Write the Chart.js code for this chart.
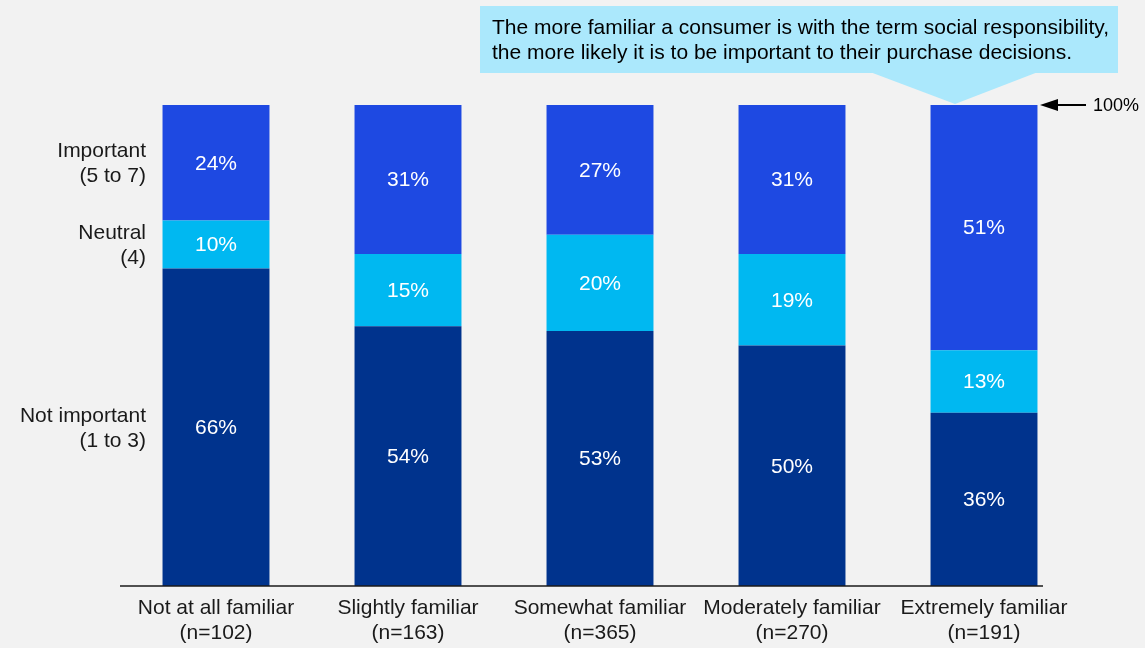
<!DOCTYPE html>
<html lang="en">
<head>
    <meta charset="UTF-8">
    <title>Importance by familiarity</title>
    <script src="https://cdn.jsdelivr.net/npm/chart.js"></script>
    <style>
        html, body { margin: 0; padding: 0; background: #f2f2f2; }
        .wrap { position: relative; width: 1145px; height: 648px; }
    </style>
</head>
<body>
    <div class="wrap">
        <canvas id="chart" width="1145" height="648"></canvas>
    </div>

    <script>
        const categories = [
            ['Not at all familiar', '(n=102)'],
            ['Slightly familiar', '(n=163)'],
            ['Somewhat familiar', '(n=365)'],
            ['Moderately familiar', '(n=270)'],
            ['Extremely familiar', '(n=191)']
        ];
        const notImportant = [66, 54, 53, 50, 36];
        const neutral = [10, 15, 20, 19, 13];
        const important = [24, 31, 27, 31, 51];
        const seriesNames = [
            ['Not important', '(1 to 3)'],
            ['Neutral', '(4)'],
            ['Important', '(5 to 7)']
        ];
        const calloutText = [
            'The more familiar a consumer is with the term social responsibility,',
            'the more likely it is to be important to their purchase decisions.'
        ];

        const FONT = '"Liberation Sans", Arial, sans-serif';

        // labels inside each segment + series names on the left
        const segmentLabels = {
            id: 'segmentLabels',
            afterDatasetsDraw(chart) {
                const ctx = chart.ctx;
                ctx.save();
                ctx.font = '21px ' + FONT;
                ctx.textBaseline = 'middle';
                chart.data.datasets.forEach((ds, i) => {
                    const meta = chart.getDatasetMeta(i);
                    meta.data.forEach((bar, j) => {
                        const p = bar.getProps(['x', 'y', 'base'], true);
                        ctx.fillStyle = '#ffffff';
                        ctx.textAlign = 'center';
                        ctx.fillText(ds.data[j] + '%', p.x, (p.y + p.base) / 2 + 1);
                    });
                    // series name next to the first bar
                    const first = meta.data[0].getProps(['y', 'base'], true);
                    const cy = (first.y + first.base) / 2 + 1;
                    ctx.fillStyle = '#1a1a1a';
                    ctx.textAlign = 'right';
                    ctx.fillText(seriesNames[i][0], 146, cy - 12.5);
                    ctx.fillText(seriesNames[i][1], 146, cy + 12.5);
                });
                ctx.restore();
            }
        };

        // axis line, callout box, 100% arrow
        const decorations = {
            id: 'decorations',
            afterDraw(chart) {
                const ctx = chart.ctx;
                const y = chart.scales.y;
                const top = y.getPixelForValue(100);
                const base = y.getPixelForValue(0);
                ctx.save();

                ctx.strokeStyle = '#1a1a1a';
                ctx.lineWidth = 1.5;
                ctx.beginPath();
                ctx.moveTo(120, base);
                ctx.lineTo(1043, base);
                ctx.stroke();

                // callout
                ctx.fillStyle = '#abe8fc';
                ctx.fillRect(480, 6, 638, 67);
                ctx.beginPath();
                ctx.moveTo(870, 72);
                ctx.lineTo(1038, 72);
                ctx.lineTo(955, top - 1);
                ctx.closePath();
                ctx.fill();
                ctx.fillStyle = '#000000';
                ctx.font = '21px ' + FONT;
                ctx.textAlign = 'left';
                ctx.textBaseline = 'middle';
                ctx.fillText(calloutText[0], 492, 28);
                ctx.fillText(calloutText[1], 492, 53);

                // 100% marker
                ctx.strokeStyle = '#000000';
                ctx.lineWidth = 2;
                ctx.beginPath();
                ctx.moveTo(1054, top);
                ctx.lineTo(1086, top);
                ctx.stroke();
                ctx.fillStyle = '#000000';
                ctx.beginPath();
                ctx.moveTo(1040, top);
                ctx.lineTo(1058, top - 6);
                ctx.lineTo(1058, top + 6);
                ctx.closePath();
                ctx.fill();
                ctx.font = '18px ' + FONT;
                ctx.fillText('100%', 1093, top + 1);

                ctx.restore();
            }
        };

        const ctx = document.getElementById('chart').getContext('2d');
        new Chart(ctx, {
            type: 'bar',
            data: {
                labels: categories,
                datasets: [
                    { label: 'Not important (1 to 3)', data: notImportant, backgroundColor: '#00338d' },
                    { label: 'Neutral (4)', data: neutral, backgroundColor: '#00b8f1' },
                    { label: 'Important (5 to 7)', data: important, backgroundColor: '#1e49e2' }
                ]
            },
            options: {
                responsive: false,
                animation: false,
                layout: { padding: { left: 120, right: 65, top: 105, bottom: 0 } },
                datasets: {
                    bar: { barPercentage: 1, categoryPercentage: 0.557, borderWidth: 0 }
                },
                plugins: {
                    legend: { display: false },
                    tooltip: { enabled: false }
                },
                scales: {
                    x: {
                        stacked: true,
                        grid: { display: false, drawTicks: false },
                        border: { display: false },
                        ticks: {
                            color: '#1a1a1a',
                            padding: 10,
                            maxRotation: 0,
                            autoSkip: false,
                            font: { family: FONT, size: 21, lineHeight: 1.19 }
                        },
                        afterFit(scale) { scale.height = 62; }
                    },
                    y: {
                        stacked: true,
                        display: false,
                        min: 0,
                        max: 100
                    }
                }
            },
            plugins: [segmentLabels, decorations]
        });
    </script>
</body>
</html>
